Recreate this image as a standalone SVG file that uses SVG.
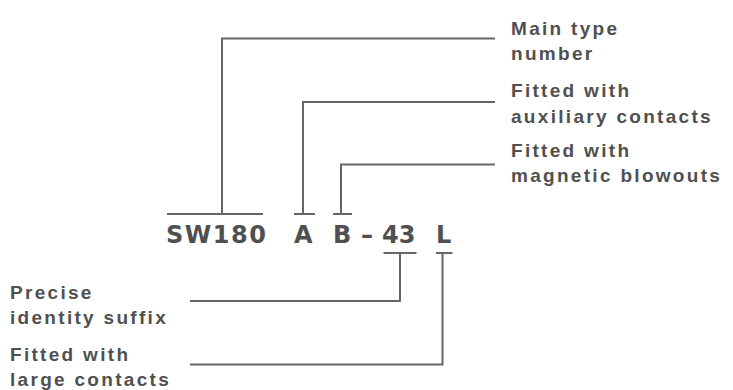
<svg xmlns="http://www.w3.org/2000/svg" width="733" height="390" viewBox="0 0 733 390">
<style>
.lbl{font-family:"Liberation Sans",Arial,sans-serif;font-weight:bold;font-size:19px;letter-spacing:2.3px;fill:#505050}
.code{font-family:"DejaVu Sans","Liberation Sans",sans-serif;font-weight:bold;font-size:24px;fill:#505050}
.ln{fill:none;stroke:#666;stroke-width:2}
</style>
<rect width="733" height="390" fill="#fff"/>
<g id="connectors">
<polyline class="ln" points="495,38.5 222,38.5 222,214"/>
<line class="ln" x1="167" y1="214" x2="263" y2="214"/>
<polyline class="ln" points="495,102 303,102 303,214"/>
<line class="ln" x1="294" y1="214" x2="315" y2="214"/>
<polyline class="ln" points="495,164.5 341,164.5 341,214"/>
<line class="ln" x1="333" y1="214" x2="352" y2="214"/>
<polyline class="ln" points="190,301 400,301 400,253"/>
<line class="ln" x1="383.5" y1="253" x2="416.5" y2="253"/>
<polyline class="ln" points="190,364.5 442.5,364.5 442.5,253"/>
<line class="ln" x1="436" y1="253" x2="452.5" y2="253"/>
</g>
<g id="code">
<text class="code" y="243"><tspan x="166" letter-spacing="1.5">SW180</tspan> <tspan x="294">A</tspan> <tspan x="333">B</tspan> <tspan x="361">–</tspan> <tspan x="382">43</tspan> <tspan x="436">L</tspan></text>
</g>
<g id="main-type">
<text class="lbl" x="511" y="34.5">Main type</text>
<text class="lbl" x="511" y="59.5">number</text>
</g>
<g id="auxiliary">
<text class="lbl" x="511" y="97">Fitted with</text>
<text class="lbl" x="511" y="122.5">auxiliary contacts</text>
</g>
<g id="blowouts">
<text class="lbl" x="511" y="157">Fitted with</text>
<text class="lbl" x="511" y="182">magnetic blowouts</text>
</g>
<g id="suffix">
<text class="lbl" x="10" y="299">Precise</text>
<text class="lbl" x="10" y="323.5">identity suffix</text>
</g>
<g id="large">
<text class="lbl" x="10" y="361">Fitted with</text>
<text class="lbl" x="10" y="385.5">large contacts</text>
</g>
</svg>
